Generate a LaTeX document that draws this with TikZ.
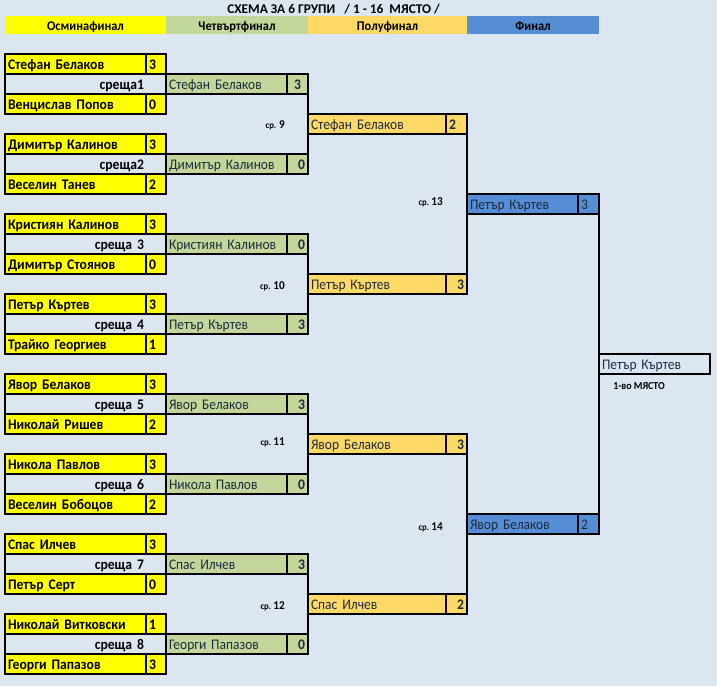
\documentclass[tikz,border=0pt]{standalone}
\usepackage{fontspec}
\setmainfont{Carlito}[FakeStretch=0.92, BoldFeatures={FakeStretch=0.93}]
\newfontfamily\titlefont{Carlito}
\definecolor{bg}{HTML}{DCE6F1}
\definecolor{osm}{HTML}{FFFF00}
\definecolor{chet}{HTML}{C4D79B}
\definecolor{polu}{HTML}{FFD966}
\definecolor{fin}{HTML}{558ED5}
\definecolor{ink}{HTML}{1F2A40}
\begin{document}
\begin{tikzpicture}[x=0.75pt, y=-0.75pt,
        box/.style={draw, line width=1.5pt, anchor=north west, outer sep=0pt, inner xsep=2.25pt, inner ysep=0pt,
            minimum height=15pt, text height=8.25pt, text depth=0.3pt, align=left, text=ink, font=\fontsize{11}{13}\selectfont},
        osmname/.style={box, fill=osm, text=black, font=\fontsize{11}{13}\selectfont\bfseries, text width=101.25pt},
        osmscore/.style={osmname, text width=10.5pt},
        chetname/.style={box, fill=chet, text width=86.25pt},
        chetscore/.style={box, fill=chet, text width=11.25pt, font=\fontsize{11}{13}\selectfont\bfseries, align=right},
        poluname/.style={box, fill=polu, text width=99pt},
        poluscore/.style={box, fill=polu, text width=11.25pt, font=\fontsize{11}{13}\selectfont\bfseries, align=right},
        finname/.style={box, fill=fin, text width=78.75pt},
        finscore/.style={box, fill=fin, text width=11.25pt},
        winner/.style={box, text width=78.75pt},
        meet/.style={anchor=north west, outer sep=0pt, inner xsep=1.5pt, inner ysep=0pt, minimum height=15pt,
            text height=8.25pt, text depth=0.3pt, text width=102.75pt, align=right, font=\fontsize{11}{13}\selectfont\bfseries},
        head/.style={anchor=north west, outer sep=0pt, inner sep=0pt, minimum height=13.5pt, text height=8.55pt, text depth=0pt,
            align=center, font=\fontsize{10}{12}\selectfont\bfseries},
        sr/.style={anchor=base east, inner sep=0pt, font=\bfseries},
        link/.style={line width=1.5pt}]

        \fill[bg] (0,0) rectangle (717,686);

        % title and round headers
        \node[anchor=base west, inner sep=0pt, font=\titlefont\fontsize{10}{12}\selectfont\bfseries] (title) at (227,13.3) {СХЕМА ЗА 6 ГРУПИ~~~/ 1 - 16~~МЯСТО /};
        \node[head, fill=osm, text width=120.75pt] (h1) at (5,16) {Осминафинал};
        \node[head, fill=chet, text width=106.5pt] (h2) at (166,16) {Четвъртфинал};
        \node[head, fill=polu, text width=119.25pt] (h3) at (308,16) {Полуфинал};
        \node[head, fill=fin, text width=99pt] (h4) at (467,16) {Финал};

        % osminafinal
        \node[osmname] (a1) at (5,54) {Стефан Белаков};
        \node[osmscore] (a1r) at (146,54) {3};
        \node[meet] (m1) at (5,74) {среща1};
        \node[osmname] (a2) at (5,94) {Венцислав Попов};
        \node[osmscore] (a2r) at (146,94) {0};

        \node[osmname] (a3) at (5,134) {Димитър Калинов};
        \node[osmscore] (a3r) at (146,134) {3};
        \node[meet] (m2) at (5,154) {среща2};
        \node[osmname] (a4) at (5,174) {Веселин Танев};
        \node[osmscore] (a4r) at (146,174) {2};

        \node[osmname] (a5) at (5,214) {Кристиян Калинов};
        \node[osmscore] (a5r) at (146,214) {3};
        \node[meet] (m3) at (5,234) {среща 3\ \ };
        \node[osmname] (a6) at (5,254) {Димитър Стоянов};
        \node[osmscore] (a6r) at (146,254) {0};

        \node[osmname] (a7) at (5,294) {Петър Къртев};
        \node[osmscore] (a7r) at (146,294) {3};
        \node[meet] (m4) at (5,314) {среща 4};
        \node[osmname] (a8) at (5,334) {Трайко Георгиев};
        \node[osmscore] (a8r) at (146,334) {1};

        \node[osmname] (a9) at (5,374) {Явор Белаков};
        \node[osmscore] (a9r) at (146,374) {3};
        \node[meet] (m5) at (5,394) {среща 5};
        \node[osmname] (a10) at (5,414) {Николай Ришев};
        \node[osmscore] (a10r) at (146,414) {2};

        \node[osmname] (a11) at (5,454) {Никола Павлов};
        \node[osmscore] (a11r) at (146,454) {3};
        \node[meet] (m6) at (5,474) {среща 6};
        \node[osmname] (a12) at (5,494) {Веселин Бобоцов};
        \node[osmscore] (a12r) at (146,494) {2};

        \node[osmname] (a13) at (5,534) {Спас Илчев};
        \node[osmscore] (a13r) at (146,534) {3};
        \node[meet] (m7) at (5,554) {среща 7};
        \node[osmname] (a14) at (5,574) {Петър Серт};
        \node[osmscore] (a14r) at (146,574) {0};

        \node[osmname] (a15) at (5,614) {Николай Витковски};
        \node[osmscore] (a15r) at (146,614) {1};
        \node[meet] (m8) at (5,634) {среща 8};
        \node[osmname] (a16) at (5,654) {Георги Папазов};
        \node[osmscore] (a16r) at (146,654) {3};

        % chetvartfinal
        \node[chetname] (b1) at (166,74) {Стефан Белаков};
        \node[chetscore, align=center] (b1r) at (287,74) {3};
        \node[chetname] (b2) at (166,154) {Димитър Калинов};
        \node[chetscore] (b2r) at (287,154) {0};
        \node[chetname] (b3) at (166,234) {Кристиян Калинов};
        \node[chetscore] (b3r) at (287,234) {0};
        \node[chetname] (b4) at (166,314) {Петър Къртев};
        \node[chetscore] (b4r) at (287,314) {3};
        \node[chetname] (b5) at (166,394) {Явор Белаков};
        \node[chetscore] (b5r) at (287,394) {3};
        \node[chetname] (b6) at (166,474) {Никола Павлов};
        \node[chetscore] (b6r) at (287,474) {0};
        \node[chetname] (b7) at (166,554) {Спас Илчев};
        \node[chetscore] (b7r) at (287,554) {3};
        \node[chetname] (b8) at (166,634) {Георги Папазов};
        \node[chetscore] (b8r) at (287,634) {0};

        % polufinal
        \node[poluname] (c1) at (308,114) {Стефан Белаков};
        \node[poluscore, align=left] (c1r) at (446,114) {2};
        \node[poluname] (c2) at (308,274) {Петър Къртев};
        \node[poluscore] (c2r) at (446,274) {3};
        \node[poluname] (c3) at (308,434) {Явор Белаков};
        \node[poluscore] (c3r) at (446,434) {3};
        \node[poluname] (c4) at (308,594) {Спас Илчев};
        \node[poluscore] (c4r) at (446,594) {2};

        \node[sr] (k9) at (285,128.3) {{\fontsize{7}{8}\selectfont ср.}\ {\fontsize{9}{10}\selectfont 9}};
        \node[sr] (k10) at (285,289) {{\fontsize{7}{8}\selectfont ср.}\ {\fontsize{9}{10}\selectfont 10}};
        \node[sr] (k11) at (285,445) {{\fontsize{7}{8}\selectfont ср.}\,{\fontsize{9}{10}\selectfont 11}};
        \node[sr] (k12) at (285,609) {{\fontsize{7}{8}\selectfont ср.}\,{\fontsize{9}{10}\selectfont 12}};

        % final
        \node[finname] (d1) at (467,194) {Петър Къртев};
        \node[finscore] (d1r) at (578,194) {3};
        \node[finname] (d2) at (467,514) {Явор Белаков};
        \node[finscore] (d2r) at (578,514) {2};

        \node[sr] (k13) at (443,205) {{\fontsize{7}{8}\selectfont ср.}\,{\fontsize{9}{10}\selectfont 13}};
        \node[sr] (k14) at (443,530) {{\fontsize{7}{8}\selectfont ср.}\,{\fontsize{9}{10}\selectfont 14}};

        \node[winner] (w) at (599,354) {Петър Къртев};
        \node[anchor=base west, inner sep=0pt, font=\fontsize{8}{9}\selectfont\bfseries] (place) at (613,389) {1-во МЯСТО};

        % bracket lines
        \draw[link] (a1.south west) -- (a2.north west);
        \draw[link] (a3.south west) -- (a4.north west);
        \draw[link] (a5.south west) -- (a6.north west);
        \draw[link] (a7.south west) -- (a8.north west);
        \draw[link] (a9.south west) -- (a10.north west);
        \draw[link] (a11.south west) -- (a12.north west);
        \draw[link] (a13.south west) -- (a14.north west);
        \draw[link] (a15.south west) -- (a16.north west);

        \draw[link] (b1r.south east) -- (b2r.north east);
        \draw[link] (b3r.south east) -- (b4r.north east);
        \draw[link] (b5r.south east) -- (b6r.north east);
        \draw[link] (b7r.south east) -- (b8r.north east);

        \draw[link] (c1r.south east) -- (c2r.north east);
        \draw[link] (c3r.south east) -- (c4r.north east);

        \draw[link] (d1r.south east) -- (d2r.north east);
\end{tikzpicture}
\end{document}
